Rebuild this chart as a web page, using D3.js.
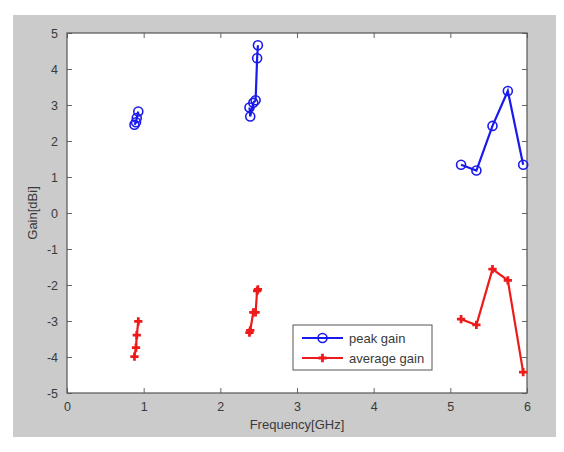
<!DOCTYPE html>
<html lang="en">
<head>
  <meta charset="UTF-8" />
  <script src="https://d3js.org/d3.v7.min.js"></script>
  <style>
    body { margin: 0; background: #fff; }
    text { font-family: "Liberation Sans", Arial, sans-serif; fill: #3a3a3a; }
  </style>
</head>
<body>
  <svg id="chart" width="564" height="452"></svg>
  <script>
    // frequency points, NaN splits the three bands
    const freq = [0.88, 0.9, 0.91, 0.93, NaN, 2.38, 2.39, 2.43, 2.46, 2.48, 2.49, NaN, 5.14, 5.34, 5.55, 5.75, 5.95];
    const peakGain = [2.45, 2.52, 2.64, 2.82, NaN, 2.93, 2.68, 3.06, 3.13, 4.3, 4.66, NaN, 1.34, 1.18, 2.42, 3.39, 1.34];
    const avgGain = [-3.99, -3.74, -3.39, -3.01, NaN, -3.32, -3.26, -2.76, -2.76, -2.16, -2.12, NaN, -2.95, -3.11, -1.56, -1.87, -4.42];
    const xTicks = [0, 1, 2, 3, 4, 5, 6];
    const yTicks = [-5, -4, -3, -2, -1, 0, 1, 2, 3, 4, 5];

    const svg = d3.select("#chart");
    const m = { left: 67, right: 527, top: 33, bottom: 393 };

    // grey figure background
    svg.append("rect").attr("x", 13).attr("y", 15).attr("width", 543).attr("height", 422).attr("fill", "#cbcbcb");
    svg.append("rect").attr("x", m.left).attr("y", m.top)
      .attr("width", m.right - m.left).attr("height", m.bottom - m.top).attr("fill", "#fff");

    const x = d3.scaleLinear().domain([0, 6]).range([m.left, m.right]);
    const y = d3.scaleLinear().domain([-5, 5]).range([m.bottom, m.top]);

    const fmt = d => String(d); // plain hyphen minus like matlab
    const axisStyle = g => {
      g.select(".domain").remove();
      g.selectAll(".tick line").attr("stroke", "#666");
      g.selectAll(".tick text").style("font-size", "12.5px").attr("fill", "#3a3a3a");
    };

    svg.append("g").attr("transform", `translate(0,${m.bottom})`)
      .call(d3.axisBottom(x).tickValues(xTicks).tickSize(-5).tickPadding(9).tickFormat(fmt))
      .call(axisStyle);
    svg.append("g").attr("transform", `translate(0,${m.top})`)
      .call(d3.axisTop(x).tickValues(xTicks).tickSize(-5).tickFormat(""))
      .call(axisStyle);
    svg.append("g").attr("transform", `translate(${m.left},0)`)
      .call(d3.axisLeft(y).tickValues(yTicks).tickSize(-5).tickPadding(9).tickFormat(fmt))
      .call(axisStyle);
    svg.append("g").attr("transform", `translate(${m.right},0)`)
      .call(d3.axisRight(y).tickValues(yTicks).tickSize(-5).tickFormat(""))
      .call(axisStyle);

    svg.append("rect").attr("x", m.left).attr("y", m.top)
      .attr("width", m.right - m.left).attr("height", m.bottom - m.top)
      .attr("fill", "none").attr("stroke", "#555").attr("stroke-width", 1.2);

    const series = [
      { name: "peak gain", values: peakGain, color: "#1a1aee", marker: "circle" },
      { name: "average gain", values: avgGain, color: "#ee1a1a", marker: "star" }
    ];

    const star = d3.symbol().type(d3.symbolCross).size(38);

    series.forEach(s => {
      const pts = freq.map((f, i) => [f, s.values[i]]);
      const line = d3.line().defined(d => !isNaN(d[0])).x(d => x(d[0])).y(d => y(d[1]));
      svg.append("path").datum(pts).attr("d", line)
        .attr("fill", "none").attr("stroke", s.color).attr("stroke-width", 2.2);
      const valid = pts.filter(d => !isNaN(d[0]));
      if (s.marker === "circle") {
        svg.selectAll(null).data(valid).join("circle")
          .attr("cx", d => x(d[0])).attr("cy", d => y(d[1])).attr("r", 4.5)
          .attr("fill", "none").attr("stroke", s.color).attr("stroke-width", 1.6);
      } else {
        svg.selectAll(null).data(valid).join("path")
          .attr("transform", d => `translate(${x(d[0])},${y(d[1])})`)
          .attr("d", star).attr("fill", s.color);
      }
    });

    // legend
    const lg = svg.append("g");
    lg.append("rect").attr("x", 293).attr("y", 325).attr("width", 139).attr("height", 45)
      .attr("fill", "#fff").attr("stroke", "#555").attr("stroke-width", 1);
    series.forEach((s, i) => {
      const ly = 338 + i * 20;
      lg.append("line").attr("x1", 302).attr("x2", 343).attr("y1", ly).attr("y2", ly)
        .attr("stroke", s.color).attr("stroke-width", 2.2);
      if (s.marker === "circle") {
        lg.append("circle").attr("cx", 322.5).attr("cy", ly).attr("r", 4.5)
          .attr("fill", "none").attr("stroke", s.color).attr("stroke-width", 1.6);
      } else {
        lg.append("path").attr("transform", `translate(322.5,${ly})`).attr("d", star).attr("fill", s.color);
      }
      lg.append("text").attr("x", 349).attr("y", ly + 4.5).style("font-size", "13px").text(s.name);
    });

    svg.append("text").attr("x", x(3)).attr("y", 429).attr("text-anchor", "middle")
      .style("font-size", "13px").text("Frequency[GHz]");
    svg.append("text").attr("transform", `translate(37,${y(0)}) rotate(-90)`)
      .attr("text-anchor", "middle").style("font-size", "13px").text("Gain[dBi]");
  </script>
</body>
</html>
